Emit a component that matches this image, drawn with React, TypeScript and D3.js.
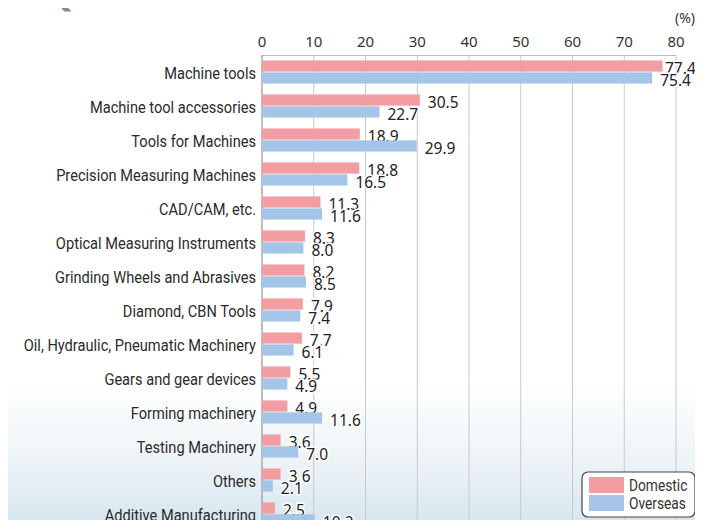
import * as d3 from 'd3';
import React, { useEffect, useRef } from 'react';

const categories = [
  'Machine tools',
  'Machine tool accessories',
  'Tools for Machines',
  'Precision Measuring Machines',
  'CAD/CAM, etc.',
  'Optical Measuring Instruments',
  'Grinding Wheels and Abrasives',
  'Diamond, CBN Tools',
  'Oil, Hydraulic, Pneumatic Machinery',
  'Gears and gear devices',
  'Forming machinery',
  'Testing Machinery',
  'Others',
  'Additive Manufacturing',
];
const domestic = [77.4, 30.5, 18.9, 18.8, 11.3, 8.3, 8.2, 7.9, 7.7, 5.5, 4.9, 3.6, 3.6, 2.5];
const overseas = [75.4, 22.7, 29.9, 16.5, 11.6, 8.0, 8.5, 7.4, 6.1, 4.9, 11.6, 7.0, 2.1, 10.2];
const seriesNames = ['Domestic', 'Overseas'];
const xTicks = [0, 10, 20, 30, 40, 50, 60, 70, 80];

const W = 703;
const H = 528;
const colors = ['#f29da1', '#a4c5e7'];
const labelFont = "'Roboto', 'Liberation Sans', sans-serif";
const numFont = "'Noto Sans', 'DejaVu Sans', sans-serif";

export default function App() {
  const ref = useRef<SVGSVGElement>(null);

  useEffect(() => {
    const svg = d3.select(ref.current);
    svg.selectAll('*').remove();

    // background: white, pale blue haze along the bottom
    const defs = svg.append('defs');
    const grad = defs.append('linearGradient')
      .attr('id', 'bg')
      .attr('x1', '0').attr('y1', '0').attr('x2', '0').attr('y2', '1');
    grad.append('stop').attr('offset', '0.72').attr('stop-color', '#ffffff');
    grad.append('stop').attr('offset', '0.88').attr('stop-color', '#ecf3f7');
    grad.append('stop').attr('offset', '1').attr('stop-color', '#d4e5ee');
    svg.append('rect').attr('width', W).attr('height', H).attr('fill', 'url(#bg)');

    // partially visible heading
    svg.append('text')
      .attr('x', 45).attr('y', 6)
      .style('font-family', "'Noto Sans', sans-serif")
      .style('font-weight', 'bold')
      .style('font-size', '36px')
      .style('fill', '#8a8a8a')
      .text('Q8');

    const left = 262;
    const right = 676;
    const top = 55;

    const x = d3.scaleLinear().domain([0, 80]).range([left, right]);
    const y = d3.scaleBand<string>()
      .domain(categories)
      .range([top, top + categories.length * 34])
      .paddingInner(0.32)
      .paddingOuter(0.16);
    const ys = d3.scaleBand<string>().domain(seriesNames).range([0, y.bandwidth()]).paddingInner(0.06);

    // grid
    svg.append('g').selectAll('line')
      .data(xTicks.slice(1))
      .enter().append('line')
      .attr('x1', d => x(d)).attr('x2', d => x(d))
      .attr('y1', top).attr('y2', H)
      .attr('stroke', '#c9c9c9').attr('stroke-width', 1);
    svg.append('line')
      .attr('x1', left).attr('x2', right).attr('y1', top + 0.5).attr('y2', top + 0.5)
      .attr('stroke', '#bdbdbd');
    svg.append('line')
      .attr('x1', left).attr('x2', left).attr('y1', top).attr('y2', H)
      .attr('stroke', '#a8a8a8').attr('stroke-width', 1.5);

    // tick labels
    svg.append('g').selectAll('text')
      .data(xTicks)
      .enter().append('text')
      .attr('x', d => x(d)).attr('y', 47)
      .attr('text-anchor', 'middle')
      .style('font-family', numFont)
      .style('font-size', '15px')
      .style('fill', '#333')
      .text(d => d);
    svg.append('text')
      .attr('x', 685).attr('y', 23)
      .attr('text-anchor', 'middle')
      .style('font-family', numFont)
      .style('font-size', '14px')
      .style('fill', '#333')
      .text('(%)');

    // category labels (condensed look)
    svg.append('g').selectAll('text')
      .data(categories)
      .enter().append('text')
      .attr('transform', d => `translate(256,${(y(d) as number) + y.bandwidth() / 2 + 7}) scale(0.86,1)`)
      .attr('text-anchor', 'end')
      .style('font-family', labelFont)
      .style('font-size', '17px')
      .style('fill', '#2b2b2b')
      .text(d => d);

    const series = [domestic, overseas];
    series.forEach((vals, s) => {
      const g = svg.append('g');
      const name = seriesNames[s];
      g.selectAll('rect')
        .data(vals)
        .enter().append('rect')
        .attr('x', left)
        .attr('y', (d, i) => (y(categories[i]) as number) + (ys(name) as number))
        .attr('width', d => x(d) - left)
        .attr('height', ys.bandwidth())
        .attr('fill', colors[s]);
      g.selectAll('text')
        .data(vals)
        .enter().append('text')
        .attr('x', d => Math.min(x(d) + 8, 665))
        .attr('y', (d, i) => (y(categories[i]) as number) + (ys(name) as number) + ys.bandwidth() / 2 + 8)
        .style('font-family', numFont)
        .style('font-size', '15.5px')
        .style('fill', '#222')
        .style('stroke', '#fff')
        .style('stroke-width', 3)
        .style('paint-order', 'stroke')
        .text(d => d.toFixed(1));
    });

    // legend
    const lg = svg.append('g').attr('transform', 'translate(582,472)');
    lg.append('rect')
      .attr('width', 113).attr('height', 45).attr('rx', 6)
      .attr('fill', '#fff').attr('stroke', '#444').attr('stroke-width', 1.2);
    seriesNames.forEach((n, i) => {
      lg.append('rect')
        .attr('x', 7).attr('y', 5 + i * 18)
        .attr('width', 35).attr('height', 16)
        .attr('fill', colors[i]);
      lg.append('text')
        .attr('transform', `translate(47,${19 + i * 18}) scale(0.86,1)`)
        .style('font-family', labelFont)
        .style('font-size', '16px')
        .style('fill', '#333')
        .text(n);
    });
  }, []);

  return (
    <div style={{ margin: -8 }}>
      <svg ref={ref} width={W} height={H} style={{ display: 'block' }} />
    </div>
  );
}
